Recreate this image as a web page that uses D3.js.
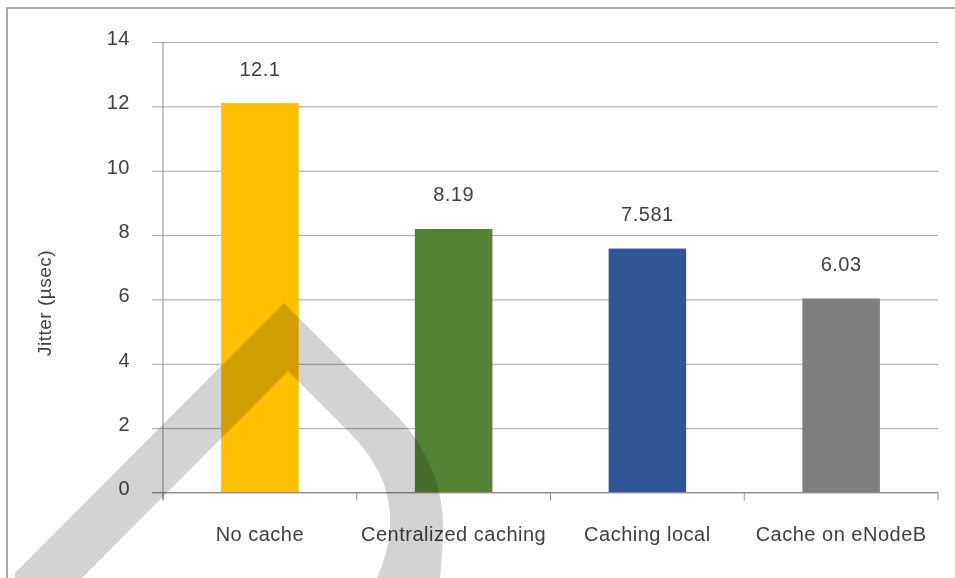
<!DOCTYPE html>
<html>
<head>
<meta charset="utf-8">
<script src="https://cdn.jsdelivr.net/npm/d3@7"></script>
<style>
  body { margin: 0; background: #fff; }
  svg { display: block; font-family: "Liberation Sans", Arial, sans-serif; }
</style>
</head>
<body>
<div id="wrapper"></div>
<script>
const categories = ["No cache", "Centralized caching", "Caching local", "Cache on eNodeB"];
const jitterValues = [12.1, 8.19, 7.581, 6.03];
const valueLabels = ["12.1", "8.19", "7.581", "6.03"];
const barColors = ["#FFC000", "#548235", "#2F5597", "#7F7F7F"];
const yTicks = [0, 2, 4, 6, 8, 10, 12, 14];

function drawBars() {
  const dimensions = {
    width: 955,
    height: 578,
    margin: { top: 42, right: 17, bottom: 85.5, left: 163 },
  }
  dimensions.boundedWidth = dimensions.width - dimensions.margin.left - dimensions.margin.right;
  dimensions.boundedHeight = dimensions.height - dimensions.margin.top - dimensions.margin.bottom;

  const wrapper = d3.select("#wrapper")
    .append("svg")
      .attr("width", dimensions.width)
      .attr("height", dimensions.height)

  // outer chart frame (only top and left edges are visible)
  wrapper.append("path")
    .attr("d", "M7,578V8H955")
    .attr("fill", "none")
    .attr("stroke", "#8a8a8a")
    .attr("stroke-width", 1.5)

  const bounds = wrapper.append("g")
    .attr("transform", `translate(${dimensions.margin.left},${dimensions.margin.top})`)

  const xScale = d3.scaleBand()
    .domain(categories)
    .range([0, dimensions.boundedWidth])
    .padding(0)

  const yScale = d3.scaleLinear()
    .domain([0, 14])
    .range([dimensions.boundedHeight, 0])

  // gridlines + y ticks
  const yAxisGenerator = d3.axisLeft(yScale)
    .tickValues(yTicks)
    .tickSize(-(dimensions.boundedWidth + 11))
    .tickPadding(22)
    .tickFormat(d3.format("d"))

  const yAxis = bounds.append("g")
    .attr("transform", "translate(-11,0)")
    .call(yAxisGenerator)
  yAxis.select(".domain").remove()
  yAxis.selectAll(".tick line")
    .attr("stroke", "#a6a6a6")
  yAxis.selectAll(".tick text")
    .attr("fill", "#404040")
    .attr("dy", "0.12em")
    .style("font-size", "20px")
    .style("letter-spacing", "0.5px")
    .style("font-family", "'Liberation Sans', Arial, sans-serif")

  // left axis line
  bounds.append("line")
    .attr("x1", 0).attr("x2", 0)
    .attr("y1", 0).attr("y2", dimensions.boundedHeight + 8)
    .attr("stroke", "#8c8c8c")

  // category tick marks at band boundaries
  const boundaries = categories.map(c => xScale(c)).concat([dimensions.boundedWidth]);
  bounds.append("g")
    .selectAll("line")
    .data(boundaries)
    .join("line")
      .attr("x1", d => d).attr("x2", d => d)
      .attr("y1", dimensions.boundedHeight)
      .attr("y2", dimensions.boundedHeight + 8)
      .attr("stroke", "#8c8c8c")

  const barWidth = xScale.bandwidth() * 0.4;

  bounds.append("g")
    .selectAll("rect")
    .data(jitterValues)
    .join("rect")
      .attr("x", (d, i) => xScale(categories[i]) + (xScale.bandwidth() - barWidth) / 2)
      .attr("y", d => yScale(d))
      .attr("width", barWidth)
      .attr("height", d => dimensions.boundedHeight - yScale(d))
      .attr("fill", (d, i) => barColors[i])

  // zero line drawn over bars
  bounds.append("line")
    .attr("x1", -11).attr("x2", dimensions.boundedWidth)
    .attr("y1", dimensions.boundedHeight).attr("y2", dimensions.boundedHeight)
    .attr("stroke", "#8c8c8c")

  bounds.append("g")
    .selectAll("text")
    .data(jitterValues)
    .join("text")
      .attr("x", (d, i) => xScale(categories[i]) + xScale.bandwidth() / 2)
      .attr("y", d => yScale(d) - 27.5)
      .attr("text-anchor", "middle")
      .attr("fill", "#404040")
      .style("font-size", "20px")
      .style("letter-spacing", "0.5px")
      .text((d, i) => valueLabels[i])

  bounds.append("g")
    .selectAll("text")
    .data(categories)
    .join("text")
      .attr("x", d => xScale(d) + xScale.bandwidth() / 2)
      .attr("y", dimensions.boundedHeight + 48)
      .attr("text-anchor", "middle")
      .attr("fill", "#404040")
      .style("font-size", "20px")
      .style("letter-spacing", "0.5px")
      .text(d => d)

  wrapper.append("text")
    .attr("transform", "translate(51,303) rotate(-90)")
    .attr("text-anchor", "middle")
    .attr("fill", "#404040")
    .style("font-size", "19px")
    .style("letter-spacing", "0.5px")
    .text("Jitter (µsec)")

  // grey watermark overlay
  wrapper.append("path")
    .attr("d", "M15,573L284,303L395,414C425,444 443,485 443,525C443,550 441,566 440,578L377,578C383,565 390,545 390,520C390,480 370,453 345,428L288,371L82,578L15,578Z")
    .attr("fill", "#d3d3d3")
    .style("mix-blend-mode", "multiply")
}

drawBars();
</script>
</body>
</html>
